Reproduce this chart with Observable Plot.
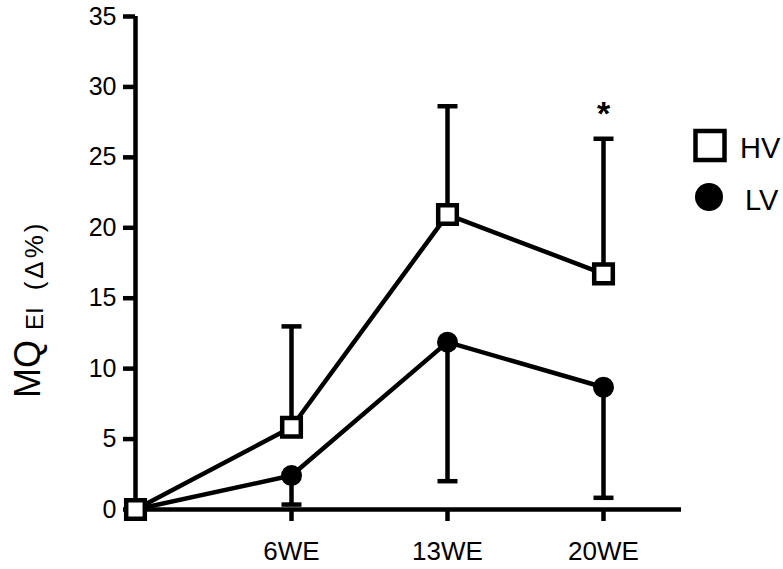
<!DOCTYPE html>
<html><head><meta charset="utf-8">
<script src="https://cdn.jsdelivr.net/npm/d3@7"></script>
<script src="https://cdn.jsdelivr.net/npm/@observablehq/plot@0.6"></script>
<style>
body{margin:0;background:#fff;font-family:"Liberation Sans",Arial,Helvetica,sans-serif}
#chart{width:783px;height:569px}
</style>
</head><body><div id="chart"></div>
<script>
const categories = ["", "6WE", "13WE", "20WE"];
const hvMean  = [0, 5.84, 20.94, 16.73];
const hvUpper = [0, 13.0, 28.63, 26.32];
const lvMean  = [0, 2.41, 11.88, 8.68];
const lvLower = [0, 0.35, 2.01, 0.83];
const significance = ["", "", "", "*"];
const yTicks = [0, 5, 10, 15, 20, 25, 30, 35];
const seriesNames = ["HV", "LV"];

const hv = categories.map((c, i) => ({i, cat: c, mean: hvMean[i], err: hvUpper[i], sig: significance[i]}));
const lv = categories.map((c, i) => ({i, cat: c, mean: lvMean[i], err: lvLower[i]}));
const hvErr = hv.filter(d => d.i > 0);
const lvErr = lv.filter(d => d.i > 0);

const capSymbol = {draw(ctx, size) { const w = Math.sqrt(size / Math.PI); ctx.moveTo(-w, 0); ctx.lineTo(w, 0); }};
const FONT = '"Liberation Sans", Arial, Helvetica, sans-serif';
const SW = 4.5;

const plot = Plot.plot({
  width: 783,
  height: 569,
  marginLeft: 135,
  marginRight: 102,
  marginTop: 16,
  marginBottom: 60,
  style: {fontFamily: FONT, color: "black", background: "white", overflow: "visible"},
  x: {type: "linear", domain: [0, 3.5]},
  y: {domain: [0, 35]},
  marks: [
    Plot.axisY(yTicks, {tickSize: 12, tickPadding: 7, strokeWidth: SW, fontSize: 25, label: null}),
    Plot.axisX([0, 1, 2, 3], {tickFormat: i => categories[i], tickSize: 12, tickPadding: 20, strokeWidth: SW, fontSize: 26, label: null}),
    Plot.ruleY([0], {strokeWidth: SW}),
    Plot.ruleX([0], {strokeWidth: SW}),
    Plot.ruleX(lvErr, {x: "i", y1: "mean", y2: "err", strokeWidth: SW}),
    Plot.dot(lvErr, {x: "i", y: "err", symbol: capSymbol, r: 10, stroke: "black", strokeWidth: SW}),
    Plot.ruleX(hvErr, {x: "i", y1: "mean", y2: "err", strokeWidth: SW}),
    Plot.dot(hvErr, {x: "i", y: "err", symbol: capSymbol, r: 10, stroke: "black", strokeWidth: SW}),
    Plot.line(lv, {x: "i", y: "mean", stroke: "black", strokeWidth: SW}),
    Plot.line(hv, {x: "i", y: "mean", stroke: "black", strokeWidth: SW}),
    Plot.dot(lv, {x: "i", y: "mean", r: 10.5, fill: "black", stroke: "none"}),
    Plot.dot(hv, {x: "i", y: "mean", symbol: "square", r: 10.5, fill: "white", stroke: "black", strokeWidth: SW}),
    Plot.text(hv.filter(d => d.sig), {x: "i", y: "err", text: "sig", dy: -25, fontSize: 34, fontWeight: "bold"})
  ]
});

const svg = d3.select(plot);
const yLabelSet = new Set(yTicks.map(String));
const xLabelSet = new Set(categories.filter(c => c));
svg.selectAll("text").filter(function () { return yLabelSet.has(this.textContent); })
  .style("font-size", "25px");
svg.selectAll("text").filter(function () { return xLabelSet.has(this.textContent); })
  .style("font-size", "26px");
svg.selectAll("path, line").filter(function () { return this.getAttribute("fill") !== "black"; })
  .style("stroke-width", SW + "px");

// y-axis title with subscript
const t = svg.append("text")
  .attr("transform", "translate(40,398) rotate(-90)")
  .style("text-anchor", "start")
  .attr("fill", "black")
  .style("font-family", FONT);
t.append("tspan").style("font-size", "36px").text("MQ");
t.append("tspan").style("font-size", "24px").attr("dx", 10).attr("dy", 3).text("EI");
t.append("tspan").style("font-size", "26px").style("letter-spacing", "3px").attr("dx", 17).text("(Δ%)");

// legend
const lg = svg.append("g").style("font-family", FONT).style("font-size", "29px").style("text-anchor", "start").attr("fill", "black");
lg.append("rect").attr("x", 695.5).attr("y", 131).attr("width", 29).attr("height", 29)
  .attr("fill", "white").attr("stroke", "black").attr("stroke-width", SW);
lg.append("text").attr("x", 740).attr("y", 158).text(seriesNames[0]);
lg.append("circle").attr("cx", 709).attr("cy", 197).attr("r", 14).attr("fill", "black");
lg.append("text").attr("x", 745).attr("y", 210).text(seriesNames[1]);

document.getElementById("chart").appendChild(plot);
</script>
</body></html>
